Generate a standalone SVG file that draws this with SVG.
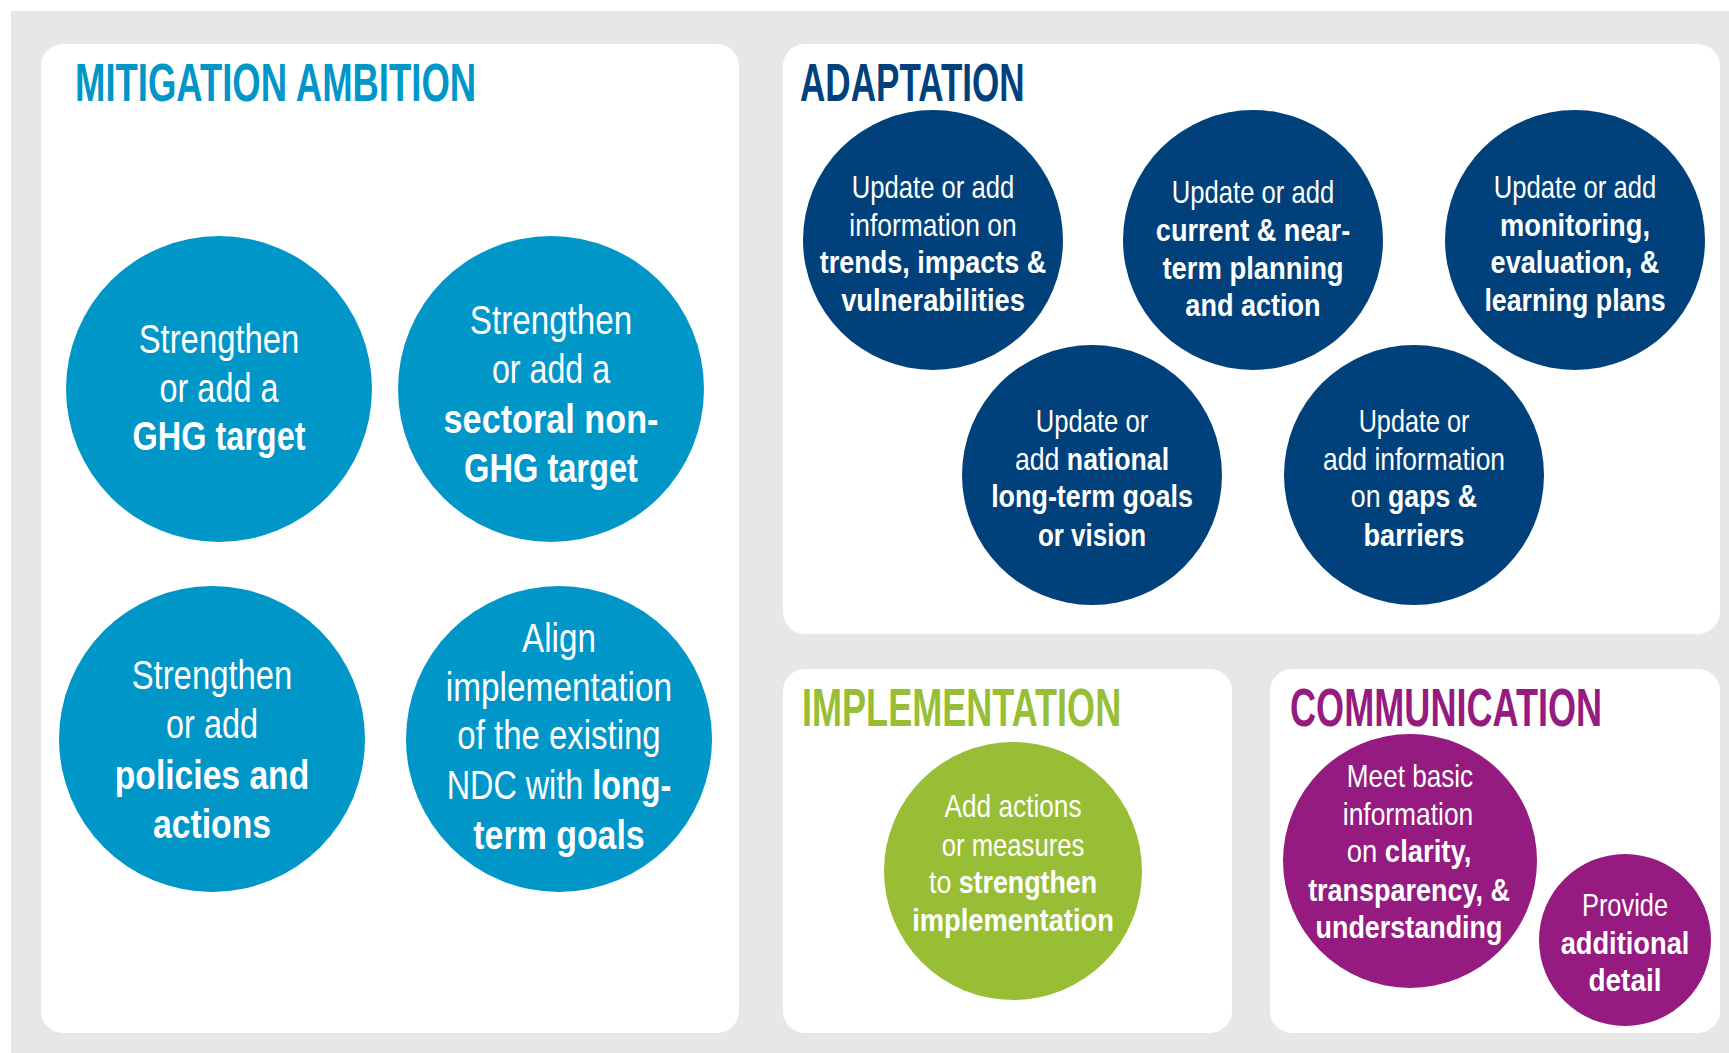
<svg xmlns="http://www.w3.org/2000/svg" width="1729" height="1053" viewBox="0 0 1729 1053">
<style>
.panel{fill:#ffffff}
.t{font-family:"Liberation Sans Narrow","Liberation Sans",Arial,sans-serif;fill:#ffffff;text-anchor:middle}
.r{font-weight:400}
.b{font-weight:700}
.m{font-size:40px}
.s{font-size:31px}
.title{font-family:"Liberation Sans Narrow","Liberation Sans",Arial,sans-serif;font-weight:700;font-size:53px}
.lb{fill:#0096c8}
.nv{fill:#00417b}
.gr{fill:#98be35}
.pu{fill:#951b81}
</style>
<rect x="0" y="0" width="1729" height="1053" fill="#ffffff"/>
<rect x="11" y="11" width="1718" height="1042" fill="#e7e7e5"/>

<g id="panel-mitigation">
<rect class="panel" x="41" y="44" width="698" height="989" rx="22"/>
<text class="title lb" transform="translate(75 101) scale(0.7 1)" textLength="573" lengthAdjust="spacingAndGlyphs">MITIGATION AMBITION</text>
</g>
<g id="panel-adaptation">
<rect class="panel" x="783" y="44" width="937" height="590" rx="22"/>
<text class="title nv" transform="translate(800 101) scale(0.7 1)" textLength="321" lengthAdjust="spacingAndGlyphs">ADAPTATION</text>
</g>
<g id="panel-implementation">
<rect class="panel" x="783" y="669" width="449" height="364" rx="22"/>
<text class="title gr" transform="translate(802 726) scale(0.7 1)" textLength="456" lengthAdjust="spacingAndGlyphs">IMPLEMENTATION</text>
</g>
<g id="panel-communication">
<rect class="panel" x="1270" y="669" width="450" height="364" rx="22"/>
<text class="title pu" transform="translate(1290 726) scale(0.7 1)" textLength="446" lengthAdjust="spacingAndGlyphs">COMMUNICATION</text>
</g>

<g id="connectors"></g>

<g id="m1">
<circle class="lb" cx="219" cy="389" r="153"/>
<text class="t m r" transform="translate(219 353) scale(0.82 1)" textLength="196" lengthAdjust="spacingAndGlyphs">Strengthen</text>
<text class="t m r" transform="translate(219 402) scale(0.82 1)" textLength="145" lengthAdjust="spacingAndGlyphs">or add a</text>
<text class="t m b" transform="translate(219 450) scale(0.82 1)" textLength="211" lengthAdjust="spacingAndGlyphs">GHG target</text>
</g>
<g id="m2">
<circle class="lb" cx="551" cy="389" r="153"/>
<text class="t m r" transform="translate(551 334) scale(0.82 1)" textLength="198" lengthAdjust="spacingAndGlyphs">Strengthen</text>
<text class="t m r" transform="translate(551 383) scale(0.82 1)" textLength="144" lengthAdjust="spacingAndGlyphs">or add a</text>
<text class="t m b" transform="translate(551 433) scale(0.82 1)" textLength="262" lengthAdjust="spacingAndGlyphs">sectoral non-</text>
<text class="t m b" transform="translate(551 482) scale(0.82 1)" textLength="212" lengthAdjust="spacingAndGlyphs">GHG target</text>
</g>
<g id="m3">
<circle class="lb" cx="212" cy="739" r="153"/>
<text class="t m r" transform="translate(212 689) scale(0.82 1)" textLength="196" lengthAdjust="spacingAndGlyphs">Strengthen</text>
<text class="t m r" transform="translate(212 738) scale(0.82 1)" textLength="112" lengthAdjust="spacingAndGlyphs">or add</text>
<text class="t m b" transform="translate(212 789) scale(0.82 1)" textLength="237" lengthAdjust="spacingAndGlyphs">policies and</text>
<text class="t m b" transform="translate(212 838) scale(0.82 1)" textLength="144" lengthAdjust="spacingAndGlyphs">actions</text>
</g>
<g id="m4">
<circle class="lb" cx="559" cy="739" r="153"/>
<text class="t m r" transform="translate(559 652) scale(0.82 1)" textLength="90" lengthAdjust="spacingAndGlyphs">Align</text>
<text class="t m r" transform="translate(559 701) scale(0.82 1)" textLength="276" lengthAdjust="spacingAndGlyphs">implementation</text>
<text class="t m r" transform="translate(559 749) scale(0.82 1)" textLength="248" lengthAdjust="spacingAndGlyphs">of the existing</text>
<text class="t m r" transform="translate(559 799) scale(0.82 1)" textLength="274" lengthAdjust="spacingAndGlyphs">NDC with <tspan class="b">long-</tspan></text>
<text class="t m b" transform="translate(559 849) scale(0.82 1)" textLength="209" lengthAdjust="spacingAndGlyphs">term goals</text>
</g>

<g id="a1">
<circle class="nv" cx="933" cy="240" r="130"/>
<text class="t s r" transform="translate(933 198) scale(0.82 1)" textLength="198" lengthAdjust="spacingAndGlyphs">Update or add</text>
<text class="t s r" transform="translate(933 236) scale(0.82 1)" textLength="204" lengthAdjust="spacingAndGlyphs">information on</text>
<text class="t s b" transform="translate(933 273) scale(0.82 1)" textLength="276" lengthAdjust="spacingAndGlyphs">trends, impacts &amp;</text>
<text class="t s b" transform="translate(933 311) scale(0.82 1)" textLength="224" lengthAdjust="spacingAndGlyphs">vulnerabilities</text>
</g>
<g id="a2">
<circle class="nv" cx="1253" cy="240" r="130"/>
<text class="t s r" transform="translate(1253 203) scale(0.82 1)" textLength="198" lengthAdjust="spacingAndGlyphs">Update or add</text>
<text class="t s b" transform="translate(1253 241) scale(0.82 1)" textLength="237" lengthAdjust="spacingAndGlyphs">current &amp; near-</text>
<text class="t s b" transform="translate(1253 279) scale(0.82 1)" textLength="221" lengthAdjust="spacingAndGlyphs">term planning</text>
<text class="t s b" transform="translate(1253 316) scale(0.82 1)" textLength="165" lengthAdjust="spacingAndGlyphs">and action</text>
</g>
<g id="a3">
<circle class="nv" cx="1575" cy="240" r="130"/>
<text class="t s r" transform="translate(1575 198) scale(0.82 1)" textLength="198" lengthAdjust="spacingAndGlyphs">Update or add</text>
<text class="t s b" transform="translate(1575 236) scale(0.82 1)" textLength="183" lengthAdjust="spacingAndGlyphs">monitoring,</text>
<text class="t s b" transform="translate(1575 273) scale(0.82 1)" textLength="206" lengthAdjust="spacingAndGlyphs">evaluation, &amp;</text>
<text class="t s b" transform="translate(1575 311) scale(0.82 1)" textLength="221" lengthAdjust="spacingAndGlyphs">learning plans</text>
</g>
<g id="a4">
<circle class="nv" cx="1092" cy="475" r="130"/>
<text class="t s r" transform="translate(1092 432) scale(0.82 1)" textLength="137" lengthAdjust="spacingAndGlyphs">Update or</text>
<text class="t s r" transform="translate(1092 470) scale(0.82 1)" textLength="188" lengthAdjust="spacingAndGlyphs">add <tspan class="b">national</tspan></text>
<text class="t s b" transform="translate(1092 507) scale(0.82 1)" textLength="246" lengthAdjust="spacingAndGlyphs">long-term goals</text>
<text class="t s b" transform="translate(1092 546) scale(0.82 1)" textLength="132" lengthAdjust="spacingAndGlyphs">or vision</text>
</g>
<g id="a5">
<circle class="nv" cx="1414" cy="475" r="130"/>
<text class="t s r" transform="translate(1414 432) scale(0.82 1)" textLength="135" lengthAdjust="spacingAndGlyphs">Update or</text>
<text class="t s r" transform="translate(1414 470) scale(0.82 1)" textLength="222" lengthAdjust="spacingAndGlyphs">add information</text>
<text class="t s r" transform="translate(1414 507) scale(0.82 1)" textLength="154" lengthAdjust="spacingAndGlyphs">on <tspan class="b">gaps &amp;</tspan></text>
<text class="t s b" transform="translate(1414 546) scale(0.82 1)" textLength="123" lengthAdjust="spacingAndGlyphs">barriers</text>
</g>

<g id="i1">
<circle class="gr" cx="1013" cy="871" r="129"/>
<text class="t s r" transform="translate(1013 817) scale(0.82 1)" textLength="167" lengthAdjust="spacingAndGlyphs">Add actions</text>
<text class="t s r" transform="translate(1013 856) scale(0.82 1)" textLength="174" lengthAdjust="spacingAndGlyphs">or measures</text>
<text class="t s r" transform="translate(1013 893) scale(0.82 1)" textLength="205" lengthAdjust="spacingAndGlyphs">to <tspan class="b">strengthen</tspan></text>
<text class="t s b" transform="translate(1013 931) scale(0.82 1)" textLength="246" lengthAdjust="spacingAndGlyphs">implementation</text>
</g>

<g id="c1">
<circle class="pu" cx="1410" cy="861" r="127"/>
<text class="t s r" transform="translate(1410 787) scale(0.82 1)" textLength="154" lengthAdjust="spacingAndGlyphs">Meet basic</text>
<text class="t s r" transform="translate(1408 825) scale(0.82 1)" textLength="159" lengthAdjust="spacingAndGlyphs">information</text>
<text class="t s r" transform="translate(1409 862) scale(0.82 1)" textLength="152" lengthAdjust="spacingAndGlyphs">on <tspan class="b">clarity,</tspan></text>
<text class="t s b" transform="translate(1409 901) scale(0.82 1)" textLength="246" lengthAdjust="spacingAndGlyphs">transparency, &amp;</text>
<text class="t s b" transform="translate(1409 938) scale(0.82 1)" textLength="228" lengthAdjust="spacingAndGlyphs">understanding</text>
</g>
<g id="c2">
<circle class="pu" cx="1625" cy="940" r="86"/>
<text class="t s r" transform="translate(1625 916) scale(0.82 1)" textLength="105" lengthAdjust="spacingAndGlyphs">Provide</text>
<text class="t s b" transform="translate(1625 954) scale(0.82 1)" textLength="157" lengthAdjust="spacingAndGlyphs">additional</text>
<text class="t s b" transform="translate(1625 991) scale(0.82 1)" textLength="89" lengthAdjust="spacingAndGlyphs">detail</text>
</g>
</svg>
